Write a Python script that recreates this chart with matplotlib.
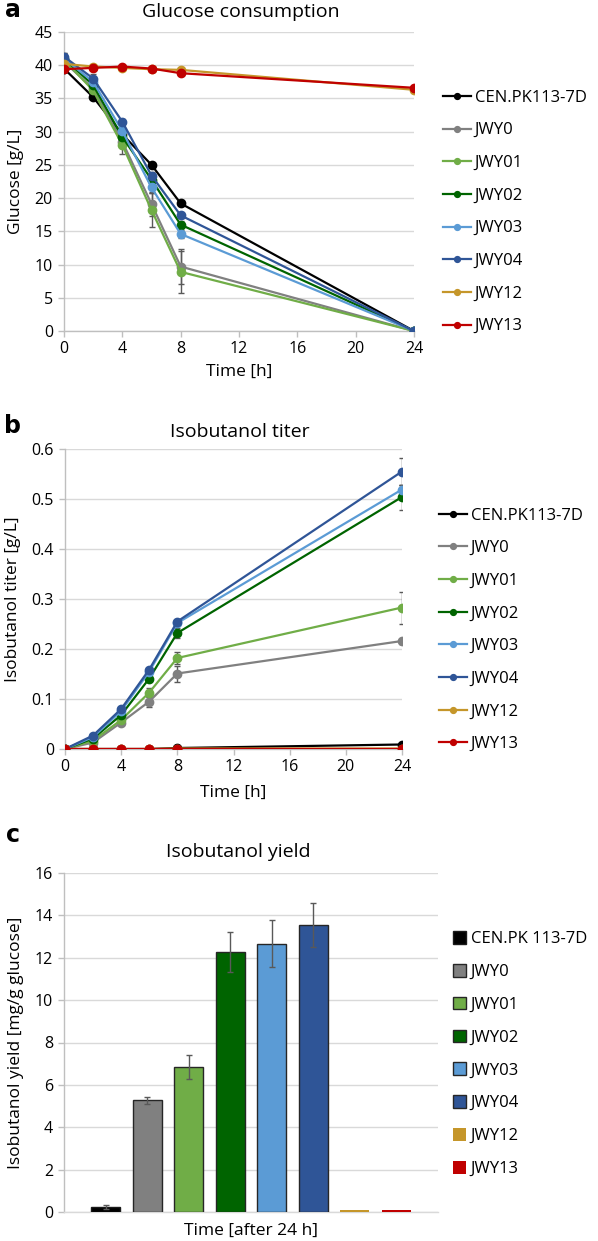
import matplotlib
matplotlib.use('Agg')
import matplotlib.pyplot as plt

plt.rcParams['font.family'] = ['Open Sans', 'DejaVu Sans']

W, H = 598, 1241
DPI = 100

# ---------------- data ----------------
strains = ['CEN.PK113-7D', 'JWY0', 'JWY01', 'JWY02', 'JWY03', 'JWY04', 'JWY12', 'JWY13']
strains_bar = ['CEN.PK 113-7D', 'JWY0', 'JWY01', 'JWY02', 'JWY03', 'JWY04', 'JWY12', 'JWY13']
colors = ['#000000', '#808080', '#70ad47', '#006400', '#5b9bd5', '#2f5597', '#c5962a', '#c00000']
bar_edges = ['#1a1a1a', '#262626', '#262626', '#262626', '#262626', '#262626', 'none', 'none']

time_h = [0, 2, 4, 6, 8, 24]
time_ticks = [0, 4, 8, 12, 16, 20, 24]

# Glucose [g/L]
glc_cen = [39.5, 35.2, 29.6, 25.0, 19.2, 0.0]
glc_jwy0 = [40.5, 36.5, 28.5, 19.1, 9.7, 0.0]
glc_jwy01 = [40.8, 36.2, 28.0, 18.2, 8.9, 0.0]
glc_jwy02 = [41.0, 37.0, 29.2, 22.8, 16.0, 0.0]
glc_jwy03 = [41.0, 37.5, 30.1, 21.6, 14.6, 0.0]
glc_jwy04 = [41.3, 38.0, 31.5, 23.4, 17.4, 0.0]
glc_jwy12 = [40.2, 39.8, 39.6, 39.4, 39.3, 36.3]
glc_jwy13 = [39.4, 39.6, 39.8, 39.5, 38.8, 36.6]

glc_err_cen = [0.2, 0.3, 0.3, 0.3, 0.3, 0.0]
glc_err_jwy0 = [1.3, 0.5, 0.8, 1.8, 2.6, 0.0]
glc_err_jwy01 = [0.6, 0.5, 1.3, 2.5, 3.2, 0.0]
glc_err_jwy02 = [0.5, 0.4, 0.5, 0.6, 0.5, 0.0]
glc_err_jwy03 = [0.5, 0.5, 0.6, 0.8, 0.6, 0.0]
glc_err_jwy04 = [0.6, 0.7, 0.4, 0.5, 0.4, 0.0]
glc_err_jwy12 = [0.2, 0.2, 0.2, 0.2, 0.2, 0.2]
glc_err_jwy13 = [0.2, 0.2, 0.2, 0.2, 0.2, 0.2]

# Isobutanol titer [g/L]
tit_cen = [0.0, 0.0, 0.0, 0.0, 0.002, 0.009]
tit_jwy0 = [0.0, 0.013, 0.053, 0.095, 0.151, 0.216]
tit_jwy01 = [0.0, 0.017, 0.058, 0.113, 0.182, 0.283]
tit_jwy02 = [0.0, 0.021, 0.068, 0.141, 0.232, 0.504]
tit_jwy03 = [0.0, 0.024, 0.076, 0.155, 0.252, 0.519]
tit_jwy04 = [0.0, 0.027, 0.080, 0.159, 0.255, 0.555]
tit_jwy12 = [0.0, 0.0, 0.0, 0.0, 0.001, 0.001]
tit_jwy13 = [0.0, 0.0, 0.0, 0.0, 0.0, 0.0]

tit_err_cen = [0.0, 0.0, 0.0, 0.0, 0.001, 0.001]
tit_err_jwy0 = [0.0, 0.002, 0.004, 0.010, 0.016, 0.005]
tit_err_jwy01 = [0.0, 0.002, 0.004, 0.009, 0.012, 0.032]
tit_err_jwy02 = [0.0, 0.002, 0.004, 0.005, 0.010, 0.025]
tit_err_jwy03 = [0.0, 0.002, 0.004, 0.004, 0.004, 0.010]
tit_err_jwy04 = [0.0, 0.003, 0.004, 0.004, 0.004, 0.027]
tit_err_jwy12 = [0.0, 0.0, 0.0, 0.0, 0.0, 0.0]
tit_err_jwy13 = [0.0, 0.0, 0.0, 0.0, 0.0, 0.0]

# Isobutanol yield [mg/g glucose] after 24 h
yield_vals = [0.22, 5.27, 6.86, 12.28, 12.67, 13.53, 0.08, 0.08]
yield_err = [0.10, 0.16, 0.56, 0.94, 1.13, 1.04, 0.0, 0.0]

glucose = [glc_cen, glc_jwy0, glc_jwy01, glc_jwy02, glc_jwy03, glc_jwy04, glc_jwy12, glc_jwy13]
glucose_err = [glc_err_cen, glc_err_jwy0, glc_err_jwy01, glc_err_jwy02, glc_err_jwy03,
               glc_err_jwy04, glc_err_jwy12, glc_err_jwy13]
titer = [tit_cen, tit_jwy0, tit_jwy01, tit_jwy02, tit_jwy03, tit_jwy04, tit_jwy12, tit_jwy13]
titer_err = [tit_err_cen, tit_err_jwy0, tit_err_jwy01, tit_err_jwy02, tit_err_jwy03,
             tit_err_jwy04, tit_err_jwy12, tit_err_jwy13]

# ---------------- styling ----------------
GRID = '#d9d9d9'
SPINE = '#bfbfbf'
ERR = '#595959'
TICK_FS = 11.5
LAB_FS = 12.5
TITLE_FS = 14
LEG_FS = 12

fig = plt.figure(figsize=(W / DPI, H / DPI), dpi=DPI)


def rect(l, t, r, b):
    return [l / W, 1 - b / H, (r - l) / W, (b - t) / H]


def fx(px):
    return px / W


def fy(py):
    return 1 - py / H


def style_axes(ax, bottom_ticks=True):
    ax.set_facecolor('white')
    for s in ['top', 'right']:
        ax.spines[s].set_visible(False)
    ax.spines['left'].set_color(SPINE)
    ax.spines['bottom'].set_color(SPINE)
    ax.spines['left'].set_linewidth(1.0)
    ax.spines['bottom'].set_linewidth(1.0)
    ax.grid(axis='y', color=GRID, linewidth=1.0)
    ax.set_axisbelow(True)
    ax.tick_params(axis='y', colors=SPINE, labelcolor='#000000', labelsize=TICK_FS,
                   length=4, width=1, pad=4)
    if bottom_ticks:
        ax.tick_params(axis='x', colors=SPINE, labelcolor='#000000', labelsize=TICK_FS,
                       length=4, width=1, pad=3)


def line_panel(ax, data, errs, ylim, yticks, ylabel, ylabel_x_px, ax_l, ax_w):
    for name, col, ys, es in zip(strains, colors, data, errs):
        ax.errorbar(time_h, ys, yerr=es, fmt='none', ecolor=ERR, elinewidth=1.0,
                    capsize=2.5, capthick=1.0, zorder=3)
        ax.plot(time_h, ys, '-o', color=col, linewidth=1.6, markersize=6, label=name,
                zorder=4)
    ax.set_xlim(0, 24)
    ax.set_ylim(*ylim)
    ax.set_xticks(time_ticks)
    ax.set_yticks(yticks)
    style_axes(ax)
    ax.set_ylabel(ylabel, fontsize=LAB_FS, va='center')
    ax.yaxis.set_label_coords((ylabel_x_px - ax_l) / ax_w, 0.5)


LEG_KW = dict(frameon=False, fontsize=LEG_FS, borderpad=0, borderaxespad=0,
              labelspacing=1.0, loc='center left', bbox_transform=fig.transFigure)

# ---------------- panel a ----------------
la, ta, ra, ba = 64, 32, 414, 331
ax_a = fig.add_axes(rect(la, ta, ra, ba))
line_panel(ax_a, glucose, glucose_err, (0, 45), list(range(0, 46, 5)), 'Glucose [g/L]', 16,
           la, ra - la)
ax_a.set_xlabel('Time [h]', fontsize=LAB_FS)
ax_a.xaxis.set_label_coords(0.5, -(372 - ba) / (ba - ta))
ax_a.xaxis.label.set_va('center')
fig.text(fx(241), fy(12), 'Glucose consumption', fontsize=TITLE_FS, ha='center', va='center')
fig.text(fx(13), fy(10), 'a', fontsize=17, fontweight='bold', ha='center', va='center',
         family='DejaVu Sans')
ax_a.legend(bbox_to_anchor=(fx(443), fy(212)), handlelength=1.7, handletextpad=0.2,
            markerscale=0.7, **LEG_KW)

# ---------------- panel b ----------------
lb, tb, rb, bb = 65, 449, 402, 749
ax_b = fig.add_axes(rect(lb, tb, rb, bb))
line_panel(ax_b, titer, titer_err, (0, 0.6), [0, 0.1, 0.2, 0.3, 0.4, 0.5, 0.6],
           'Isobutanol titer [g/L]', 13, lb, rb - lb)
ax_b.set_yticklabels(['0', '0.1', '0.2', '0.3', '0.4', '0.5', '0.6'])
ax_b.set_xlabel('Time [h]', fontsize=LAB_FS)
ax_b.xaxis.set_label_coords(0.5, -(793 - bb) / (bb - tb))
ax_b.xaxis.label.set_va('center')
fig.text(fx(240), fy(432), 'Isobutanol titer', fontsize=TITLE_FS, ha='center', va='center')
fig.text(fx(13), fy(426), 'b', fontsize=17, fontweight='bold', ha='center', va='center',
         family='DejaVu Sans')
ax_b.legend(bbox_to_anchor=(fx(439), fy(630)), handlelength=1.7, handletextpad=0.2,
            markerscale=0.7, **LEG_KW)

# ---------------- panel c ----------------
lc, tc, rc, bc = 64, 873, 438, 1212
ax_c = fig.add_axes(rect(lc, tc, rc, bc))
positions = list(range(1, len(strains_bar) + 1))
for pos, name, col, ec, v, e in zip(positions, strains_bar, colors, bar_edges, yield_vals, yield_err):
    ax_c.bar(pos, v, width=0.7, color=col, edgecolor=ec, linewidth=1.0, label=name, zorder=3)
    if e > 0:
        ax_c.errorbar(pos, v, yerr=e, fmt='none', ecolor=ERR, elinewidth=1.0, capsize=2.5,
                      capthick=1.0, zorder=4)
ax_c.set_xlim(0, 9)
ax_c.set_ylim(0, 16)
ax_c.set_yticks(list(range(0, 17, 2)))
style_axes(ax_c, bottom_ticks=False)
ax_c.set_xticks([])
ax_c.spines['bottom'].set_color(GRID)
ax_c.set_ylabel('Isobutanol yield [mg/g glucose]', fontsize=LAB_FS, va='center')
ax_c.yaxis.set_label_coords((16 - lc) / (rc - lc), 0.5)
ax_c.set_xlabel('Time [after 24 h]', fontsize=LAB_FS)
ax_c.xaxis.set_label_coords(0.5, -(1231 - bc) / (bc - tc))
ax_c.xaxis.label.set_va('center')
fig.text(fx(238), fy(852), 'Isobutanol yield', fontsize=TITLE_FS, ha='center', va='center')
fig.text(fx(13), fy(835), 'c', fontsize=17, fontweight='bold', ha='center', va='center',
         family='DejaVu Sans')
ax_c.legend(bbox_to_anchor=(fx(453), fy(1054)), handlelength=0.8, handleheight=0.8,
            handletextpad=0.25, **LEG_KW)

fig.savefig('out.png', dpi=DPI, facecolor='white')
